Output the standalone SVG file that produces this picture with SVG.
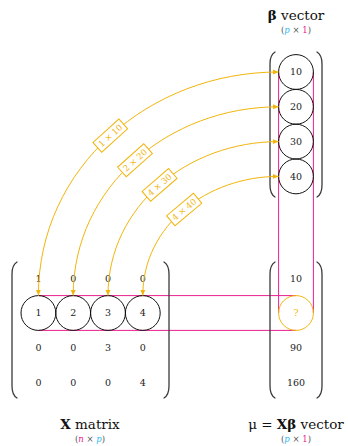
<svg xmlns="http://www.w3.org/2000/svg" width="348" height="446" viewBox="0 0 348 446">
  <style>
    .bg { fill: #ffffff; }
    .paren { fill: none; stroke: #3a3a3a; stroke-width: 1.3; stroke-linecap: round; }
    .cell { fill: none; stroke: #111111; stroke-width: 1; }
    .qcell { fill: none; stroke: #f2b50c; stroke-width: 1; }
    .num { font-family: "DejaVu Serif", "Liberation Serif", serif; font-size: 9.5px; fill: #222222; text-anchor: middle; }
    .qnum { font-family: "DejaVu Serif", "Liberation Serif", serif; font-size: 9.5px; fill: #f2b50c; text-anchor: middle; }
    .band { fill: none; stroke: #e8208c; stroke-width: 1; }
    .arc { fill: none; stroke: #f2b50c; stroke-width: 1; marker-start: url(#tip); marker-end: url(#tip); }
    .tag rect { fill: #ffffff; stroke: #f2b50c; stroke-width: 1; }
    .tag text { font-family: "DejaVu Serif", "Liberation Serif", serif; font-size: 8.5px; fill: #f2b50c; text-anchor: middle; }
    .title { font-family: "DejaVu Serif", "Liberation Serif", serif; font-size: 13.5px; fill: #111111; text-anchor: middle; }
    .sub { font-family: "DejaVu Serif", "Liberation Serif", serif; font-size: 8.5px; fill: #555555; text-anchor: middle; }
    .pc { fill: #29b6f6; font-style: italic; }
    .nc { fill: #e8208c; font-style: italic; }
    .oc { fill: #e8208c; }
    .b { font-weight: bold; }
  </style>
  <defs>
    <marker id="tip" viewBox="0 0 6 6" refX="6" refY="3" markerWidth="6" markerHeight="6" markerUnits="userSpaceOnUse" orient="auto-start-reverse">
      <path d="M0,0.4 L6,3 L0,5.6 Z" fill="#f2b50c"/>
    </marker>
  </defs>

  <rect class="bg" x="0" y="0" width="348" height="446"/>

  <!-- selection band: row 2 of X and the beta column meeting at the unknown entry -->
  <g id="connectors-band">
    <path class="band" d="M38.4,295.6 H296"/>
    <path class="band" d="M38.4,330.4 H296"/>
    <path class="band" d="M278.6,72 V313"/>
    <path class="band" d="M313.4,72 V313"/>
  </g>

  <!-- beta vector -->
  <g id="beta-vector">
    <path class="paren" d="M275,52 Q270,55 270,64 V185 Q270,194 275,197"/>
    <path class="paren" d="M317,52 Q322,55 322,64 V185 Q322,194 317,197"/>
    <g id="beta-1"><circle class="cell" cx="296" cy="72" r="17.4"/><text class="num" x="296" y="75.4">10</text></g>
    <g id="beta-2"><circle class="cell" cx="296" cy="106.8" r="17.4"/><text class="num" x="296" y="110.2">20</text></g>
    <g id="beta-3"><circle class="cell" cx="296" cy="141.6" r="17.4"/><text class="num" x="296" y="145">30</text></g>
    <g id="beta-4"><circle class="cell" cx="296" cy="176.4" r="17.4"/><text class="num" x="296" y="179.8">40</text></g>
    <text class="title" x="296" y="20"><tspan class="b">β</tspan> vector</text>
    <text class="sub" x="296" y="33">(<tspan class="pc">p</tspan> × <tspan class="oc">1</tspan>)</text>
  </g>

  <!-- X matrix -->
  <g id="x-matrix">
    <path class="paren" d="M17,262 Q12,265 12,274 V386 Q12,395 17,398"/>
    <path class="paren" d="M164,262 Q169,265 169,274 V386 Q169,395 164,398"/>
    <g id="x-row1">
      <text class="num" x="38.4" y="281.7">1</text>
      <text class="num" x="73.2" y="281.7">0</text>
      <text class="num" x="108" y="281.7">0</text>
      <text class="num" x="142.8" y="281.7">0</text>
    </g>
    <g id="x-row2">
      <circle class="cell" cx="38.4" cy="313" r="17.4"/><text class="num" x="38.4" y="316.4">1</text>
      <circle class="cell" cx="73.2" cy="313" r="17.4"/><text class="num" x="73.2" y="316.4">2</text>
      <circle class="cell" cx="108" cy="313" r="17.4"/><text class="num" x="108" y="316.4">3</text>
      <circle class="cell" cx="142.8" cy="313" r="17.4"/><text class="num" x="142.8" y="316.4">4</text>
    </g>
    <g id="x-row3">
      <text class="num" x="38.4" y="351.1">0</text>
      <text class="num" x="73.2" y="351.1">0</text>
      <text class="num" x="108" y="351.1">3</text>
      <text class="num" x="142.8" y="351.1">0</text>
    </g>
    <g id="x-row4">
      <text class="num" x="38.4" y="385.7">0</text>
      <text class="num" x="73.2" y="385.7">0</text>
      <text class="num" x="108" y="385.7">0</text>
      <text class="num" x="142.8" y="385.7">4</text>
    </g>
    <text class="title" x="90" y="429"><tspan class="b">X</tspan> matrix</text>
    <text class="sub" x="90" y="442">(<tspan class="nc">n</tspan> × <tspan class="pc">p</tspan>)</text>
  </g>

  <!-- mu vector -->
  <g id="mu-vector">
    <path class="paren" d="M275,262 Q270,265 270,274 V386 Q270,395 275,398"/>
    <path class="paren" d="M317,262 Q322,265 322,274 V386 Q322,395 317,398"/>
    <text class="num" x="296" y="281.7">10</text>
    <g id="mu-unknown"><circle class="qcell" cx="296" cy="313" r="17.4"/><text class="qnum" x="296" y="316.4">?</text></g>
    <text class="num" x="296" y="351.1">90</text>
    <text class="num" x="296" y="385.7">160</text>
    <text class="title" x="296" y="429">μ = <tspan class="b">Xβ</tspan> vector</text>
    <text class="sub" x="296" y="442">(<tspan class="pc">p</tspan> × <tspan class="oc">1</tspan>)</text>
  </g>

  <!-- pairing arcs between row entries and beta entries -->
  <g id="connectors">
    <path class="arc" d="M38.4,295.6 C38.4,167.1 150.1,72 278.6,72"/>
    <path class="arc" d="M73.2,295.6 C73.2,186.4 169.4,106.8 278.6,106.8"/>
    <path class="arc" d="M108,295.6 C108,205.6 188.6,141.6 278.6,141.6"/>
    <path class="arc" d="M142.8,295.6 C142.8,224.9 207.9,176.4 278.6,176.4"/>
    <g class="tag" transform="translate(110.3,135.6) rotate(-42.2)">
      <rect x="-17.5" y="-6.5" width="35" height="13"/><text x="0" y="3">1 × 10</text>
    </g>
    <g class="tag" transform="translate(135,160.3) rotate(-41.7)">
      <rect x="-17.5" y="-6.5" width="35" height="13"/><text x="0" y="3">2 × 20</text>
    </g>
    <g class="tag" transform="translate(159.6,184.9) rotate(-40.9)">
      <rect x="-17.5" y="-6.5" width="35" height="13"/><text x="0" y="3">4 × 30</text>
    </g>
    <g class="tag" transform="translate(184.2,209.5) rotate(-39.9)">
      <rect x="-17.5" y="-6.5" width="35" height="13"/><text x="0" y="3">4 × 40</text>
    </g>
  </g>
</svg>
